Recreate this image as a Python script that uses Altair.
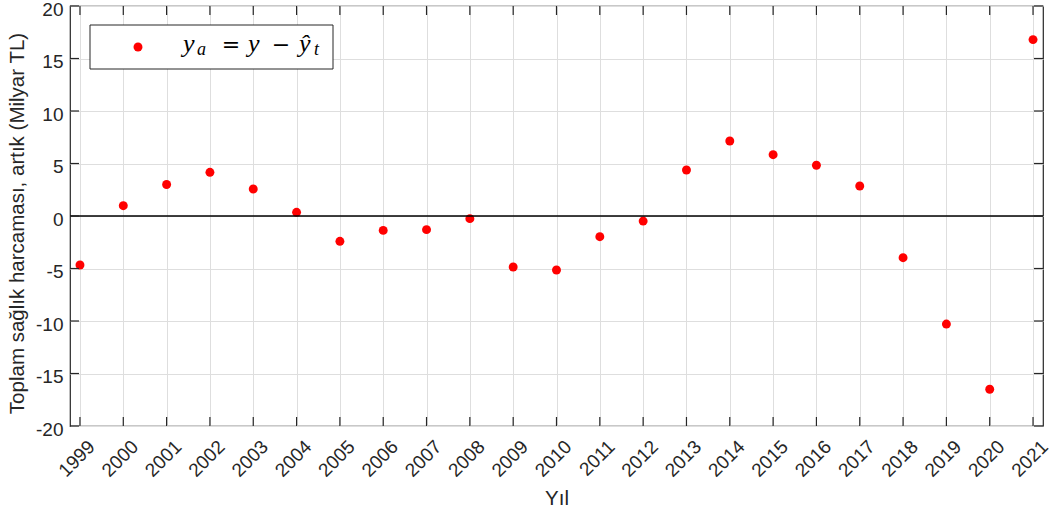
import altair as alt
import pandas as pd

# Residuals of total health expenditure (billion TL) by year
years = list(range(1999, 2022))
residuals = [-4.67, 0.98, 3.0, 4.16, 2.57, 0.35, -2.41, -1.37, -1.30, -0.25,
             -4.86, -5.14, -1.97, -0.48, 4.38, 7.14, 5.84, 4.83, 2.86, -3.97,
             -10.29, -16.5, 16.8]
y_ticks = [-20, -15, -10, -5, 0, 5, 10, 15, 20]

W, H = 973, 420
AX = "#262626"
FONT = "Liberation Sans"

df = pd.DataFrame({"year": years, "res": residuals})
xt = pd.DataFrame({"year": years})
yt = pd.DataFrame({"v": y_ticks})
zero = pd.DataFrame({"v": [0]})

x_scale = alt.Scale(domain=[1998.77, 2021.23], nice=False, zero=False)
y_scale = alt.Scale(domain=[-20, 20], nice=False)

x_axis = alt.Axis(values=years, format="d", labelAngle=-45, labelFontSize=19,
                  labelColor=AX, labelFont=FONT, tickSize=0, labelPadding=11,
                  labelOffset=5, labelOverlap=False, labelBound=False,
                  domain=False, grid=True, gridColor="#dedede", gridWidth=1,
                  title="Yıl", titleFont=FONT, titleFontSize=20.5,
                  titleFontWeight="normal", titleColor=AX, titleY=62,
                  titleBaseline="top")
y_axis = alt.Axis(values=y_ticks,
                  labelExpr="datum.value < 0 ? '-' + abs(datum.value) : '' + datum.value",
                  labelFontSize=19, labelColor=AX, labelOffset=3,
                  labelOverlap=False,
                  labelFont=FONT, tickSize=0, labelPadding=7, domain=False,
                  grid=True, gridColor="#dedede", gridWidth=1,
                  title="Toplam sağlık harcaması, artık (Milyar TL)",
                  titleFont=FONT, titleFontSize=20.5, titleFontWeight="normal",
                  titleColor=AX, titleX=-43, titleY=217, titleAngle=-90,
                  titleBaseline="bottom", titleAlign="center")

points = alt.Chart(df).mark_point(filled=True, color="#ff0000", size=80,
                                  opacity=1).encode(
    x=alt.X("year:Q", scale=x_scale, axis=x_axis),
    y=alt.Y("res:Q", scale=y_scale, axis=y_axis),
)

zero_line = alt.Chart(zero).mark_rule(color="#000000", strokeWidth=1.3).encode(
    y=alt.Y("v:Q", scale=y_scale)
)

# inward ticks on all four sides
tick_b = alt.Chart(xt).mark_rule(color=AX, strokeWidth=1.2).encode(
    x=alt.X("year:Q", scale=x_scale), y=alt.value(H), y2=alt.value(H - 9))
tick_t = alt.Chart(xt).mark_rule(color=AX, strokeWidth=1.2).encode(
    x=alt.X("year:Q", scale=x_scale), y=alt.value(0), y2=alt.value(9))
tick_l = alt.Chart(yt).mark_rule(color=AX, strokeWidth=1.2).encode(
    y=alt.Y("v:Q", scale=y_scale), x=alt.value(0), x2=alt.value(9))
tick_r = alt.Chart(yt).mark_rule(color=AX, strokeWidth=1.2).encode(
    y=alt.Y("v:Q", scale=y_scale), x=alt.value(W), x2=alt.value(W - 9))

# legend box with a math-style label: y_a = y - ŷ_t
leg_df = pd.DataFrame({"k": [0]})
leg_box = alt.Chart(leg_df).mark_rect(fill="white", stroke=AX,
                                      strokeWidth=1).encode(
    x=alt.value(20), x2=alt.value(263), y=alt.value(19), y2=alt.value(63))
leg_dot = alt.Chart(leg_df).mark_point(filled=True, color="#ff0000", size=80,
                                       opacity=1).encode(
    x=alt.value(68), y=alt.value(41))


def piece(txt, x, y, size, font="Liberation Serif", style="italic",
          align="left"):
    return alt.Chart(leg_df).mark_text(
        text=txt, font=font, fontStyle=style, fontSize=size, align=align,
        baseline="alphabetic", color="#000000").encode(
        x=alt.value(x), y=alt.value(y))


leg_parts = [
    piece("y", 113, 46, 26),
    piece("a", 127, 49, 18),
    piece("=", 161, 46, 22, font="DejaVu Sans", style="normal",
          align="center"),
    piece("y", 178, 46, 26),
    piece("−", 211, 46, 22, font="DejaVu Sans", style="normal",
          align="center"),
    piece("ŷ", 229, 46, 26),
    piece("t", 244, 49, 18),
]

chart = alt.layer(points, zero_line, tick_b, tick_t, tick_l, tick_r,
                  leg_box, leg_dot, *leg_parts).properties(
    width=W, height=H,
    autosize=alt.AutoSizeParams(type="none"),
    padding={"left": 70, "top": 6, "right": 12, "bottom": 87},
).configure_view(stroke=AX, strokeWidth=1.2)

chart.save("out.html", embed_options={"renderer": "svg", "actions": False})
